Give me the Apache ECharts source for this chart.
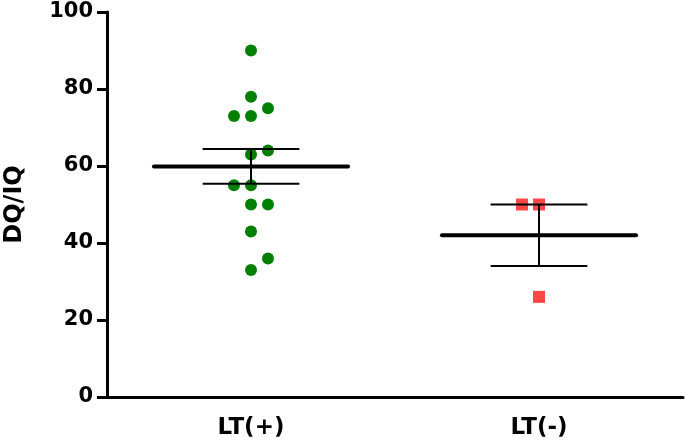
<!DOCTYPE html>
<html>
<head>
<meta charset="utf-8">
<script src="https://cdn.jsdelivr.net/npm/echarts@6/dist/echarts.min.js"></script>
<style>
  html, body { margin: 0; padding: 0; background: #fff; }
  #chart { width: 685px; height: 444px; }
</style>
</head>
<body>
<div id="chart"></div>
<script>
var groups = ['LT(+)', 'LT(-)'];

// individual values, with their side-by-side spread (-1, 0, +1)
var ltPosValues = [90, 78, 75, 73, 73, 64, 63, 55, 55, 50, 50, 43, 36, 33];
var ltPosSpread = [0, 0, 1, -1, 0, 1, 0, -1, 0, 0, 1, 0, 1, 0];
var ltNegValues = [50, 50, 26];
var ltNegSpread = [-1, 0, 0];

// mean and SEM as drawn
var means = [59.9, 42];
var sems = [4.5, 8];

var spreadPx = 17;

function points(catIndex, values, spread) {
    var out = [];
    for (var i = 0; i < values.length; i++) {
        out.push({
            value: [catIndex, values[i]],
            symbolOffset: [spread[i] * spreadPx, 0]
        });
    }
    return out;
}

var meanData = [];
for (var i = 0; i < groups.length; i++) {
    meanData.push([i, means[i], sems[i]]);
}

function renderMean(params, api) {
    var cat = api.value(0);
    var m = api.value(1);
    var s = api.value(2);
    var band = api.size([1, 0])[0];
    var c = api.coord([cat, m]);
    var hi = api.coord([cat, m + s]);
    var lo = api.coord([cat, m - s]);
    var half = band * 0.337;
    var cap = band * 0.168;
    var thin = { stroke: '#000', lineWidth: 2 };
    return {
        type: 'group',
        children: [
            { type: 'line', shape: { x1: c[0], y1: hi[1], x2: c[0], y2: lo[1] }, style: thin },
            { type: 'line', shape: { x1: c[0] - cap, y1: hi[1], x2: c[0] + cap, y2: hi[1] }, style: thin },
            { type: 'line', shape: { x1: c[0] - cap, y1: lo[1], x2: c[0] + cap, y2: lo[1] }, style: thin },
            { type: 'line', shape: { x1: c[0] - half, y1: c[1], x2: c[0] + half, y2: c[1] },
              style: { stroke: '#000', lineWidth: 4, lineCap: 'round' } }
        ]
    };
}

var font = 'DejaVu Sans';

var option = {
    animation: false,
    backgroundColor: '#fff',
    grid: { left: 107, right: 2, top: 12, bottom: 47, containLabel: false, outerBoundsMode: 'none' },
    xAxis: {
        type: 'category',
        data: groups,
        axisLine: { lineStyle: { color: '#000', width: 3 } },
        axisTick: { alignWithLabel: true, length: 10, lineStyle: { color: '#000', width: 3 } },
        axisLabel: { color: '#000', fontFamily: font, fontWeight: 'bold', fontSize: 23, margin: 20 },
        splitLine: { show: false }
    },
    yAxis: {
        type: 'value',
        min: 0,
        max: 100,
        interval: 20,
        name: 'DQ/IQ',
        nameLocation: 'middle',
        nameRotate: 90,
        nameGap: 80,
        nameTextStyle: { color: '#000', fontFamily: font, fontWeight: 'bold', fontSize: 24 },
        axisLine: { show: true, lineStyle: { color: '#000', width: 3 } },
        axisTick: { show: true, length: 10, lineStyle: { color: '#000', width: 3 } },
        axisLabel: { color: '#000', fontFamily: font, fontWeight: 'bold', fontSize: 21, margin: 14 },
        splitLine: { show: false }
    },
    series: [
        {
            name: 'LT(+)',
            type: 'scatter',
            symbol: 'circle',
            symbolSize: 12,
            itemStyle: { color: '#008000', opacity: 1 },
            data: points(0, ltPosValues, ltPosSpread),
            z: 2
        },
        {
            name: 'LT(-)',
            type: 'scatter',
            symbol: 'rect',
            symbolSize: 12,
            itemStyle: { color: '#ff4747', opacity: 1 },
            data: points(1, ltNegValues, ltNegSpread),
            z: 2
        },
        {
            name: 'mean',
            type: 'custom',
            renderItem: renderMean,
            data: meanData,
            z: 5
        }
    ]
};

var myChart = echarts.init(document.getElementById('chart'));
myChart.setOption(option);
</script>
</body>
</html>
